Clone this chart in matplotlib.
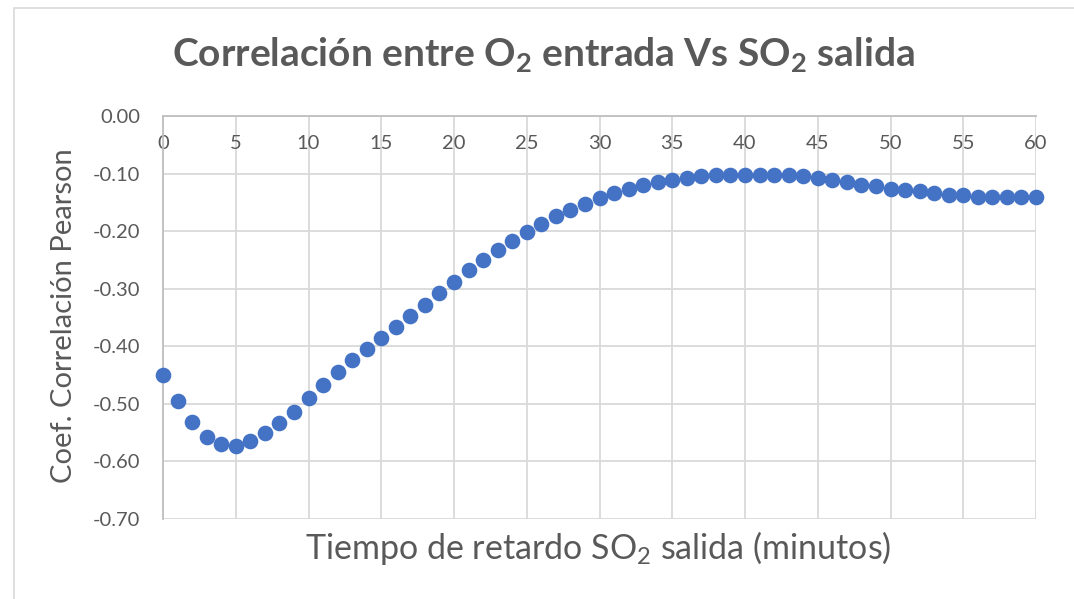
import matplotlib
matplotlib.use("Agg")
import matplotlib.pyplot as plt
from matplotlib.patches import Rectangle

# retardo en minutos y coeficiente de Pearson
lag_min = list(range(0, 61))
pearson = [
    -0.450, -0.495, -0.531, -0.557, -0.570, -0.573, -0.565, -0.551, -0.534, -0.514,
    -0.490, -0.468, -0.445, -0.424, -0.405, -0.385, -0.366, -0.347, -0.328, -0.308,
    -0.288, -0.268, -0.250, -0.233, -0.217, -0.201, -0.188, -0.174, -0.163, -0.152,
    -0.142, -0.134, -0.127, -0.120, -0.115, -0.111, -0.107, -0.104, -0.103, -0.102,
    -0.102, -0.102, -0.103, -0.103, -0.104, -0.108, -0.111, -0.115, -0.119, -0.122,
    -0.126, -0.129, -0.131, -0.134, -0.137, -0.138, -0.140, -0.140, -0.141, -0.141,
    -0.141,
]
x_ticks = list(range(0, 61, 5))
y_ticks = [0.0, -0.1, -0.2, -0.3, -0.4, -0.5, -0.6, -0.7]

text_gray = "#595959"
grid_gray = "#d9d9d9"
plt.rcParams["font.family"] = ["Lato", "DejaVu Sans"]

fig = plt.figure(figsize=(10.74, 5.99), dpi=100)
ax = fig.add_axes([163 / 1074, 1 - 519 / 599, (1036 - 163) / 1074, (519 - 116) / 599])

# chart border
fig.patches.append(Rectangle((14 / 1074, -0.1), 1.2, 1.1 - 8 / 599, transform=fig.transFigure,
                             fill=False, edgecolor=grid_gray, linewidth=1.2))

ax.scatter(lag_min, pearson, s=105, color="#4472C4", zorder=3, clip_on=False)

ax.set_xlim(0, 60)
ax.set_ylim(-0.7, 0.0)
ax.set_xticks(x_ticks)
ax.set_yticks(y_ticks)
ax.set_yticklabels([f"{v:.2f}" for v in y_ticks])
ax.grid(True, color=grid_gray, linewidth=1.3, zorder=0)
ax.set_axisbelow(True)

for side in ["top", "right"]:
    ax.spines[side].set_visible(False)
ax.spines["bottom"].set_position(("data", 0))
ax.spines["bottom"].set_color("#bfbfbf")
ax.spines["left"].set_color("#bfbfbf")
ax.spines["bottom"].set_linewidth(1.3)
ax.spines["left"].set_linewidth(1.3)
ax.tick_params(axis="both", length=0, labelsize=14.5, labelcolor=text_gray)
ax.tick_params(axis="x", pad=14)
ax.tick_params(axis="y", pad=16.5)

fig.text(0.506, 1 - 55 / 599, r"Correlación entre O$\mathregular{_2}$ entrada Vs SO$\mathregular{_2}$ salida",
         ha="center", va="center", fontsize=28, fontweight="bold", color=text_gray)
fig.text(598 / 1074, 1 - 548 / 599, r"Tiempo de retardo SO$\mathregular{_2}$ salida (minutos)",
         ha="center", va="center", fontsize=24.5, color=text_gray)
fig.text(64 / 1074, 1 - 316 / 599, "Coef. Correlación Pearson", rotation=90,
         ha="center", va="center", fontsize=21, color=text_gray)

fig.savefig("out.png", dpi=100)
